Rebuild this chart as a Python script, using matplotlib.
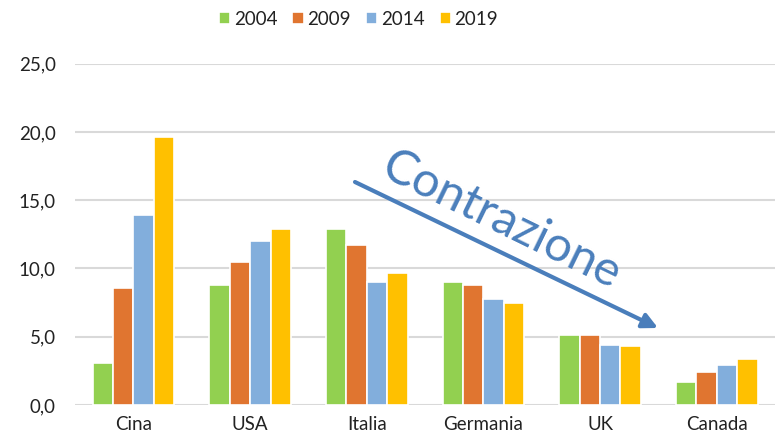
import matplotlib
matplotlib.use('Agg')
import matplotlib.pyplot as plt
from matplotlib.ticker import FuncFormatter
import numpy as np

countries = ['Cina', 'USA', 'Italia', 'Germania', 'UK', 'Canada']
years = ['2004', '2009', '2014', '2019']
v2004 = [3.1, 8.8, 12.9, 9.0, 5.1, 1.7]
v2009 = [8.6, 10.5, 11.7, 8.8, 5.1, 2.4]
v2014 = [13.9, 12.0, 9.0, 7.8, 4.4, 2.9]
v2019 = [19.6, 12.9, 9.7, 7.5, 4.3, 3.4]
colors = ['#92d050', '#e07530', '#82aedc', '#ffc000']

plt.rcParams['font.family'] = ['Lato', 'DejaVu Sans']

fig = plt.figure(figsize=(7.75, 4.46), dpi=100, facecolor='white')
ax = fig.add_axes([0.097, 0.092, 0.903, 0.765])

x = np.arange(len(countries))
slot = 0.175
for i, (vals, yr, c) in enumerate(zip([v2004, v2009, v2014, v2019], years, colors)):
    ax.bar(x + (i - 1.5) * slot, vals, width=slot, color=c, edgecolor='white',
           linewidth=1.2, label=yr, zorder=3)

ax.set_xlim(-0.5, 5.5)
ax.set_ylim(0, 25)
ax.set_yticks(np.arange(0, 26, 5))
ax.yaxis.set_major_formatter(FuncFormatter(lambda v, p: f'{v:.1f}'.replace('.', ',')))
ax.set_xticks(x)
ax.set_xticklabels(countries)
ax.grid(axis='y', color='#d9d9d9', linewidth=1.5, zorder=0)
for s in ax.spines.values():
    s.set_visible(False)
ax.tick_params(axis='both', length=0, labelsize=13.5, colors='#222222')
ax.tick_params(axis='y', pad=14)
ax.tick_params(axis='x', pad=8)

leg = ax.legend(loc='upper center', bbox_to_anchor=(0.405, 1.205), ncol=4, frameon=False,
                fontsize=13.5, handlelength=0.6, handleheight=0.6, handletextpad=0.2,
                columnspacing=0.8)
for t in leg.get_texts():
    t.set_color('#222222')

# freccia e testo "Contrazione"
ax.annotate('', xy=(658, 118), xytext=(355, 264), xycoords='figure pixels',
            textcoords='figure pixels',
            arrowprops=dict(arrowstyle='-|>,head_length=0.9,head_width=0.45',
                            color='#4a7ebb', lw=3, shrinkA=0, shrinkB=0))
fig.text(502, 226, 'Contrazione', transform=None, fontsize=35, color='#4a7ebb',
         rotation=-26, rotation_mode='anchor', ha='center', va='center')

fig.savefig('out.png', dpi=100, facecolor='white')
